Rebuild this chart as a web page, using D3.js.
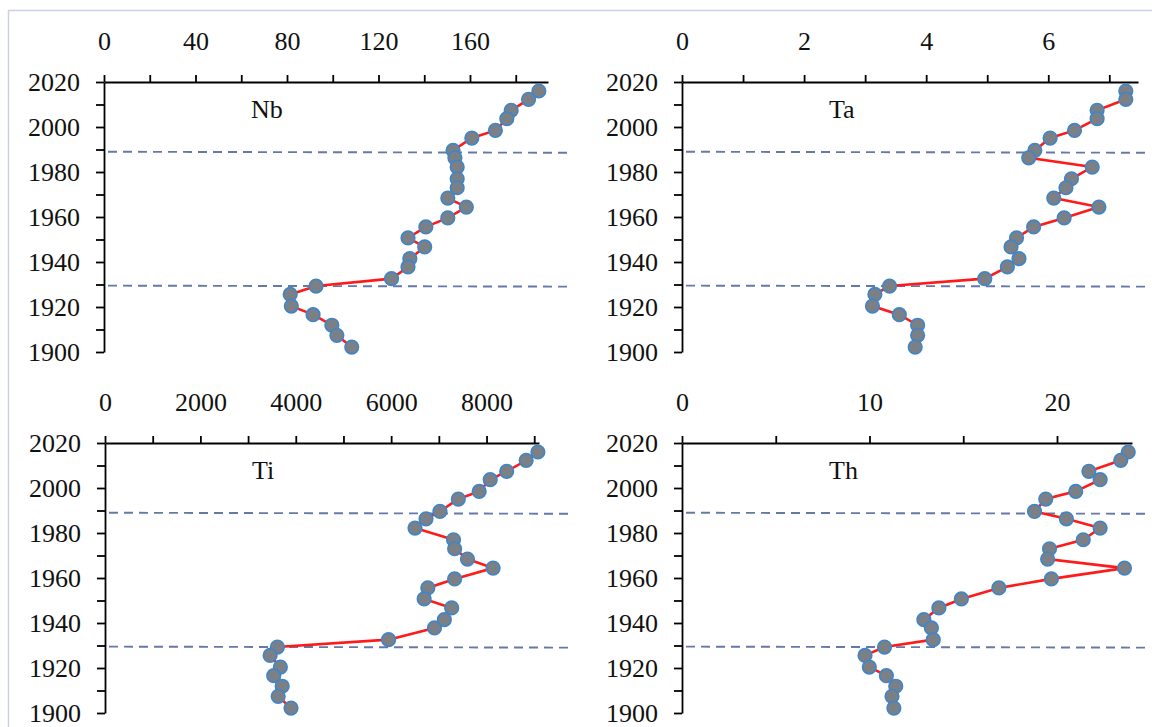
<!DOCTYPE html>
<html>
<head>
<meta charset="utf-8">
<script src="https://cdn.jsdelivr.net/npm/d3@7"></script>
<style>
  body { margin: 0; background: #fff; }
  svg text { font-family: "Liberation Serif", "DejaVu Serif", serif; }
</style>
</head>
<body>
<svg id="chart" width="1152" height="727"></svg>
<script>
// sampling years (shared by all four profiles)
const years = [2016, 2012.3, 2007.4, 2003.7, 1998.5, 1995.1, 1989.6, 1986.3, 1982.2, 1977,
  1973, 1968.4, 1964.4, 1959.6, 1955.6, 1950.7, 1946.7, 1941.5, 1937.8, 1932.6,
  1929.3, 1925.6, 1920.4, 1916.6, 1911.9, 1907.4, 1902.2];

const nb = [190.1, 185.6, 178, 176.1, 171.1, 160.8, 152.6, 153.4, 154.4, 154.4,
  154.4, 150.3, 158.4, 150.3, 140.7, 132.9, 140.2, 133.7, 132.9, 125.7,
  92.7, 81.4, 81.9, 91.4, 99.6, 101.8, 108.3];

const ta = [7.27, 7.27, 6.8, 6.8, 6.43, 6.03, 5.78, 5.68, 6.72, 6.38,
  6.29, 6.09, 6.83, 6.26, 5.76, 5.48, 5.39, 5.52, 5.33, 4.96,
  3.4, 3.16, 3.12, 3.56, 3.86, 3.86, 3.82];

const ti = [9077, 8831, 8423, 8077, 7846, 7408, 7023, 6731, 6500, 7308,
  7331, 7600, 8138, 7331, 6769, 6692, 7269, 7115, 6908, 5946,
  3615, 3462, 3677, 3538, 3715, 3631, 3900];

const th = [23.8, 23.4, 21.7, 22.3, 21.0, 19.4, 18.8, 20.5, 22.3, 21.4,
  19.6, 19.5, 23.6, 19.7, 16.9, 14.9, 13.7, 12.9, 13.3, 13.4,
  10.8, 9.76, 9.99, 10.9, 11.4, 11.2, 11.3];

const boundaryYears = [1989, 1929.5];

const yTicks = d3.range(1900, 2021, 10);
const yLabels = [1900, 1920, 1940, 1960, 1980, 2000, 2020];

const panels = [
  {name: "Nb", values: nb, left: 104, top: 82, width: 444, max: 194.1, step: 20, labelStep: 40},
  {name: "Ta", values: ta, left: 682, top: 82, width: 456, max: 7.47, step: 1, labelStep: 2},
  {name: "Ti", values: ti, left: 105, top: 443, width: 434, max: 9100, step: 1000, labelStep: 2000},
  {name: "Th", values: th, left: 682, top: 443, width: 450, max: 24, step: 5, labelStep: 10}
];

const height = 270;
const svg = d3.select("svg#chart");

// light frame round the whole chart
svg.append("rect")
  .attr("x", 8.5).attr("y", 10.5)
  .attr("width", 1300).attr("height", 900)
  .attr("fill", "none")
  .attr("stroke", "#c9d1e3")
  .attr("stroke-width", 1.5);

panels.forEach(function(p) {
  const g = svg.append("g").attr("transform", translate(p.left, p.top));

  let x = d3.scaleLinear().domain([0, p.max]).range([0, p.width]);
  let y = d3.scaleLinear().domain([1900, 2020]).range([height, 0]);

  // dashed boundary lines
  g.selectAll("line.bound")
    .data(boundaryYears)
    .join("line")
    .attr("class", "bound")
    .attr("x1", 4).attr("x2", 465)
    .attr("y1", d => y(d)).attr("y2", d => y(d) + 1)
    .attr("stroke", "#6479a8")
    .attr("stroke-width", 1.9)
    .attr("stroke-dasharray", "9,6");

  let xTicks = d3.range(0, p.max + 1e-9, p.step);
  let xAxis = g.append("g")
    .call(d3.axisTop(x)
      .tickValues(xTicks)
      .tickFormat(d => (Math.abs(d / p.labelStep - Math.round(d / p.labelStep)) < 1e-6) ? d : "")
      .tickSize(7)
      .tickSizeOuter(0)
      .tickPadding(25));

  let yAxis = g.append("g")
    .call(d3.axisLeft(y)
      .tickValues(yTicks)
      .tickFormat(d => yLabels.includes(d) ? d : "")
      .tickSize(8)
      .tickSizeOuter(0)
      .tickPadding(16));

  [xAxis, yAxis].forEach(function(a) {
    a.selectAll("path.domain").attr("stroke", "#000").attr("stroke-width", 1.8);
    a.selectAll(".tick line").attr("stroke", "#000").attr("stroke-width", 1.8);
    a.selectAll("text")
      .attr("fill", "#111")
      .style("font-size", "26px")
      .style("font-family", '"Liberation Serif", serif');
  });

  // element name
  g.append("text")
    .attr("x", 147)
    .attr("y", 36)
    .style("font-size", "26px")
    .attr("fill", "#111")
    .text(p.name);

  let pts = p.values.map((v, i) => ({v: v, year: years[i]}));

  let line = d3.line()
    .x(d => x(d.v))
    .y(d => y(d.year));

  g.append("path")
    .datum(pts)
    .attr("d", line)
    .attr("fill", "none")
    .attr("stroke", "#ff1a1a")
    .attr("stroke-width", 2.6);

  g.selectAll("circle")
    .data(pts)
    .join("circle")
    .attr("cx", d => x(d.v))
    .attr("cy", d => y(d.year))
    .attr("r", 6.8)
    .attr("fill", "#7b7f86")
    .attr("stroke", "#3f86c9")
    .attr("stroke-width", 1.6);
});

function translate(x, y) {
  return 'translate(' + x + ',' + y + ')';
}
</script>
</body>
</html>
